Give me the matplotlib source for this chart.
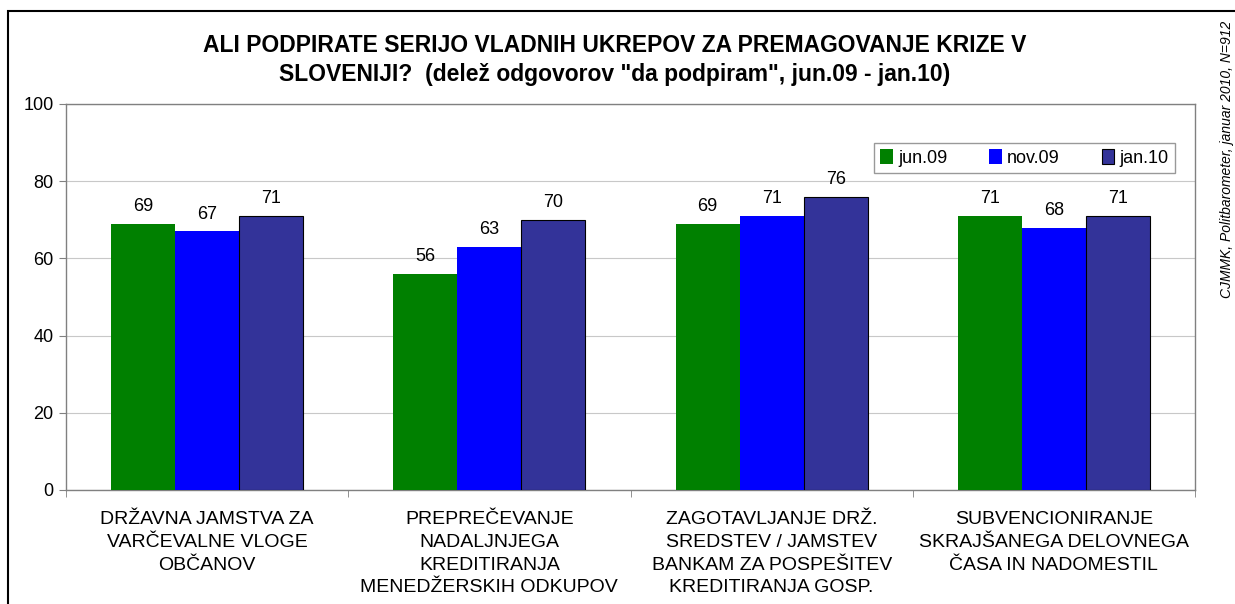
import matplotlib
matplotlib.use("Agg")
import matplotlib.pyplot as plt
import matplotlib.patches as mpatches
import numpy as np

plt.rcParams["font.family"] = ["Liberation Sans", "DejaVu Sans"]

categories = [
    "DRŽAVNA JAMSTVA ZA\nVARČEVALNE VLOGE\nOBČANOV",
    "PREPREČEVANJE\nNADALJNJEGA\nKREDITIRANJA\nMENEDŽERSKIH ODKUPOV",
    "ZAGOTAVLJANJE DRŽ.\nSREDSTEV / JAMSTEV\nBANKAM ZA POSPEŠITEV\nKREDITIRANJA GOSP.",
    "SUBVENCIONIRANJE\nSKRAJŠANEGA DELOVNEGA\nČASA IN NADOMESTIL",
]
series = ["jun.09", "nov.09", "jan.10"]
jun09 = [69, 56, 69, 71]
nov09 = [67, 63, 71, 68]
jan10 = [71, 70, 76, 71]
COLORS = ["#008000", "#0000FF", "#333399"]
EDGES = ["none", "none", "black"]

fig = plt.figure(figsize=(12.35, 6.04), dpi=100)
ax = fig.add_axes([66 / 1235, 1 - 490 / 604, (1195 - 66) / 1235, (490 - 104) / 604])

# outer frame
fig.patches.append(mpatches.Rectangle((8 / 1235, -0.1), 1.2, 1 - 11 / 604 + 0.1,
                                      transform=fig.transFigure, fill=False,
                                      edgecolor="black", linewidth=1.5))

x = np.arange(len(categories))
w = 0.227
for i, (vals, col, ec) in enumerate(zip([jun09, nov09, jan10], COLORS, EDGES)):
    pos = x + (i - 1) * w
    ax.bar(pos, vals, w, color=col, edgecolor=ec, linewidth=0.8 if ec != "none" else 0,
           label=series[i], zorder=3)
    for p, v in zip(pos, vals):
        ax.text(p, v + 2.3, str(v), ha="center", va="bottom", fontsize=13, zorder=4)

ax.set_xlim(-0.5, len(categories) - 0.5)
ax.set_ylim(0, 100)
ax.set_yticks(range(0, 101, 20))
ax.tick_params(axis="y", labelsize=13, length=5, color="#808080", pad=4)
ax.yaxis.grid(True, color="#C8C8C8", linewidth=0.8, zorder=0)

ax.set_xticks(x)
ax.set_xticklabels(categories, fontsize=14, linespacing=1.45)
ax.tick_params(axis="x", length=0, pad=15)
ax.set_xticks(np.arange(-0.5, len(categories), 1), minor=True)
ax.tick_params(axis="x", which="minor", length=5, color="#808080")

for s in ax.spines.values():
    s.set_color("#808080")
    s.set_linewidth(1)

leg = ax.legend(loc="upper right", bbox_to_anchor=((1175 - 66) / 1129, 1 - (143 - 104) / 386),
                ncol=3, fontsize=13, frameon=True, fancybox=False, edgecolor="#808080",
                handlelength=0.7, handleheight=0.9, columnspacing=2.3, handletextpad=0.3,
                borderpad=0.35, borderaxespad=0)
leg.get_frame().set_linewidth(1)

fig.text(615 / 1235, 1 - 46 / 604,
         "ALI PODPIRATE SERIJO VLADNIH UKREPOV ZA PREMAGOVANJE KRIZE V",
         ha="center", va="center", fontsize=16.5, fontweight="bold")
fig.text(615 / 1235, 1 - 74 / 604,
         "SLOVENIJI?  (delež odgovorov \"da podpiram\", jun.09 - jan.10)",
         ha="center", va="center", fontsize=16.5, fontweight="bold")

fig.text(1227 / 1235, 1 - 21 / 604, "CJMMK, Politbarometer, januar 2010, N=912",
         rotation=90, ha="center", va="top", fontsize=10, style="italic")

fig.savefig("out.png", dpi=100, facecolor="white")
